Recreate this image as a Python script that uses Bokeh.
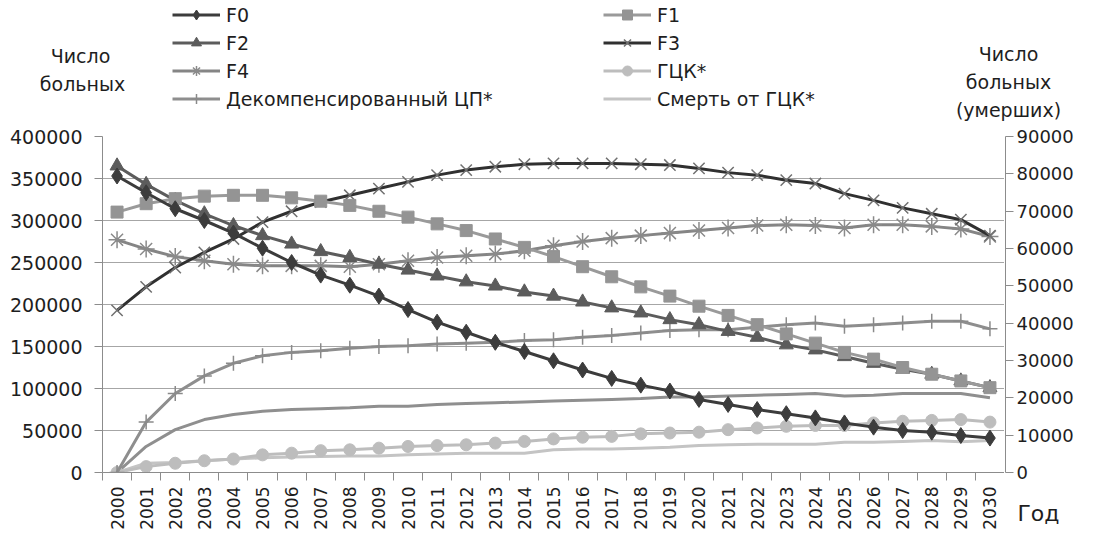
from bokeh.plotting import figure
from bokeh.layouts import column, row
from bokeh.models import (Range1d, LinearAxis, FixedTicker, BasicTickFormatter,
                          Legend, LegendItem)
from bokeh.core.properties import value
from bokeh.embed import file_html
from bokeh.resources import INLINE

# ---------------- data ----------------
years = list(range(2000, 2031))

f0 = [353000, 333000, 314000, 300000, 285000, 267000, 250000, 235000, 223000, 210000,
      194000, 179000, 167000, 155000, 144000, 133000, 122000, 112000, 104000, 97000,
      87000, 81000, 75000, 70000, 65000, 59000, 54000, 50000, 48000, 44000, 41000]
f1 = [310000, 320000, 326000, 329000, 330000, 330000, 327000, 323000, 318000, 311000,
      304000, 296000, 288000, 278000, 268000, 257000, 245000, 233000, 221000, 210000,
      198000, 187000, 176000, 165000, 154000, 143000, 135000, 125000, 117000, 109000, 101000]
f2 = [365000, 343000, 324000, 308000, 294000, 282000, 272000, 263000, 256000, 248000,
      241000, 234000, 227000, 222000, 215000, 210000, 203000, 196000, 190000, 182000,
      176000, 168000, 161000, 152000, 146000, 138000, 130000, 123000, 117000, 109000, 101000]
f3 = [193000, 221000, 244000, 262000, 278000, 298000, 311000, 322000, 330000, 338000,
      346000, 354000, 360000, 364000, 367000, 368000, 368000, 368000, 367000, 366000,
      362000, 357000, 354000, 348000, 344000, 332000, 324000, 315000, 308000, 301000, 282000]
f4 = [277000, 266000, 257000, 252000, 248000, 246000, 246000, 246000, 245000, 248000,
      252000, 256000, 258000, 260000, 264000, 270000, 275000, 279000, 282000, 285000,
      288000, 291000, 294000, 295000, 294000, 291000, 295000, 295000, 293000, 290000, 281000]
hcc = [0, 7000, 11000, 14000, 16000, 21000, 23000, 26000, 27000, 29000,
       31000, 32000, 33000, 35000, 37000, 40000, 42000, 43000, 46000, 47000,
       48000, 51000, 53000, 55000, 56000, 56000, 59000, 61000, 62000, 63000, 60000]
dcp = [0, 60000, 94000, 115000, 130000, 139000, 143000, 145000, 148000, 150000,
       151000, 153000, 154000, 155000, 157000, 158000, 161000, 163000, 166000, 169000,
       170000, 170000, 173000, 176000, 178000, 174000, 176000, 178000, 180000, 180000, 171000]
dcp_unmarked = [0, 31000, 51000, 63000, 69000, 73000, 75000, 76000, 77000, 79000,
                79000, 81000, 82000, 83000, 84000, 85000, 86000, 87000, 88000, 90000,
                90000, 91000, 92000, 93000, 94000, 91000, 92000, 94000, 94000, 94000, 89000]
hcc_death = [0, 11000, 12000, 14000, 16000, 17500, 18500, 19000, 19500, 19500,
             21000, 22000, 23000, 23000, 23000, 27000, 28000, 28000, 29000, 30000,
             32000, 33000, 33500, 33500, 33500, 36000, 36000, 37000, 38000, 36500, 38000]

left_ticks = list(range(0, 400001, 50000))
right_ticks = list(range(0, 90001, 10000))

legend_col1 = ["F0", "F2", "F4", "Декомпенсированный ЦП*"]
legend_col2 = ["F1", "F3", "ГЦК*", "Смерть от ГЦК*"]
left_title = ["Число", "больных"]
right_title = ["Число", "больных", "(умерших)"]
x_title = "Год"

FONT = "DejaVu Sans"
TXT = "#1e1e1e"
AX = "#8c8c8c"

# style of each series: line colour, marker, marker colour, marker size, filled
styles = {
    "F0": ("#3c3c3c", "diamond", "#3c3c3c", 16, True),
    "F1": ("#9a9a9a", "square", "#949494", 12, True),
    "F2": ("#5c5c5c", "triangle", "#5c5c5c", 14, True),
    "F3": ("#303030", "x", "#707070", 16, False),
    "F4": ("#858585", "asterisk", "#8a8a8a", 17, False),
    "ГЦК*": ("#bdbdbd", "circle", "#bdbdbd", 12, True),
    "Декомпенсированный ЦП*": ("#8e8e8e", "cross", "#8a8a8a", 15, False),
    "Смерть от ГЦК*": ("#c4c4c4", None, None, 0, True),
    "unmarked": ("#8f8f8f", None, None, 0, True),
}
values_by_name = {
    "F0": f0, "F1": f1, "F2": f2, "F3": f3, "F4": f4, "ГЦК*": hcc,
    "Декомпенсированный ЦП*": dcp, "Смерть от ГЦК*": hcc_death,
    "unmarked": dcp_unmarked,
}

def draw(fig, name, xs, ys):
    lc, mk, mc, ms, filled = styles[name]
    rs = [fig.line(xs, ys, line_color=lc, line_width=3)]
    if mk:
        kw = dict(marker=mk, size=ms, line_color=mc)
        if filled:
            kw["fill_color"] = mc
        else:
            kw["fill_color"] = None
            kw["line_width"] = 1.5
        rs.append(fig.scatter(xs, ys, **kw))
    return rs

W = 1077
TOP_H = 124
MAIN_H = 408
MAIN_W = 1004
RIGHT_W = W - MAIN_W
PAD_TOP = 12
FRAME_H = 336

# ---------------- top strip: legends and axis titles ----------------
top = figure(width=W, height=TOP_H, output_backend="svg", toolbar_location=None,
             x_range=Range1d(0, W), y_range=Range1d(TOP_H, 0),
             x_axis_location=None, y_axis_location=None,
             min_border=0, min_border_left=0, min_border_right=0,
             min_border_top=0, min_border_bottom=0)
top.outline_line_color = None
top.grid.visible = False

def make_legend(fig, names, x, y):
    # sample renderers for the legend keys, placed outside the visible strip
    items = [LegendItem(label=n, renderers=draw(fig, n, [-500, -400], [-500, -400]))
             for n in names]
    return Legend(items=items, location=(x, y), orientation="vertical",
                  glyph_width=48, glyph_height=25, label_height=25,
                  label_standoff=6, spacing=3, padding=0, margin=0,
                  border_line_alpha=0, background_fill_alpha=0,
                  label_text_font=FONT, label_text_font_size="19px",
                  label_text_color=TXT)

top.add_layout(make_legend(top, legend_col1, 172, 13))
top.add_layout(make_legend(top, legend_col2, 603, 13))

top.text(x=[80, 82], y=[55, 83], text=left_title, text_align="center",
         text_baseline="alphabetic", text_font=value(FONT),
         text_font_size="19px", text_color=TXT)
top.text(x=[1008, 1008, 1008], y=[53, 81, 109], text=right_title, text_align="center",
         text_baseline="alphabetic", text_font=value(FONT),
         text_font_size="19px", text_color=TXT)

# ---------------- main chart ----------------
p = figure(width=MAIN_W, height=MAIN_H, output_backend="svg", toolbar_location=None,
           x_range=Range1d(1999.5, 2030.5), y_range=Range1d(0, 400000),
           min_border_left=102, min_border_right=0, min_border_top=PAD_TOP,
           min_border_bottom=MAIN_H - PAD_TOP - FRAME_H)
p.outline_line_color = None

xa = p.xaxis[0]
xa.ticker = FixedTicker(ticks=years, minor_ticks=[y - 0.5 for y in years] + [2030.5])
xa.formatter = BasicTickFormatter(use_scientific=False)
xa.major_tick_out = 0
xa.major_tick_in = 0
xa.minor_tick_out = 8
xa.minor_tick_in = 0
xa.minor_tick_line_color = AX
xa.axis_line_color = AX
xa.major_label_orientation = 1.5708
xa.major_label_standoff = 6
xa.major_label_text_font = FONT
xa.major_label_text_font_size = "17px"
xa.major_label_text_color = TXT

ya = p.yaxis[0]
ya.ticker = FixedTicker(ticks=left_ticks)
ya.formatter = BasicTickFormatter(use_scientific=False)
ya.major_tick_out = 8
ya.major_tick_in = 0
ya.minor_tick_line_color = None
ya.axis_line_color = AX
ya.major_tick_line_color = AX
ya.major_label_standoff = 12
ya.major_label_text_font = FONT
ya.major_label_text_font_size = "19px"
ya.major_label_text_color = TXT

p.xgrid.visible = False
p.ygrid.ticker = FixedTicker(ticks=left_ticks)
p.ygrid.grid_line_color = "#a6a6a6"
p.ygrid.grid_line_width = 1.2

for name in ["unmarked", "Смерть от ГЦК*", "ГЦК*", "Декомпенсированный ЦП*",
             "F4", "F3", "F2", "F1", "F0"]:
    draw(p, name, years, values_by_name[name])

# ---------------- right axis strip ----------------
RA_H = PAD_TOP + FRAME_H + 10
rfig = figure(width=RIGHT_W, height=RA_H, output_backend="svg", toolbar_location=None,
              x_range=Range1d(0, 1), y_range=Range1d(0, 90000),
              x_axis_location=None, y_axis_location=None,
              min_border_left=0, min_border_right=RIGHT_W - 1,
              min_border_top=PAD_TOP, min_border_bottom=RA_H - PAD_TOP - FRAME_H)
rfig.outline_line_color = None
rfig.grid.visible = False
ra = LinearAxis(ticker=FixedTicker(ticks=right_ticks),
                formatter=BasicTickFormatter(use_scientific=False))
ra.major_tick_out = 8
ra.major_tick_in = 0
ra.minor_tick_line_color = None
ra.axis_line_color = AX
ra.major_tick_line_color = AX
ra.major_label_standoff = 3
ra.major_label_text_font = FONT
ra.major_label_text_font_size = "18px"
ra.major_label_text_color = TXT
rfig.add_layout(ra, "right")

# ---------------- x title strip ----------------
G_H = MAIN_H - RA_H
gfig = figure(width=RIGHT_W, height=G_H, output_backend="svg",
              toolbar_location=None, x_range=Range1d(0, RIGHT_W),
              y_range=Range1d(0, G_H),
              x_axis_location=None, y_axis_location=None,
              min_border=0, min_border_left=0, min_border_right=0,
              min_border_top=0, min_border_bottom=0)
gfig.outline_line_color = None
gfig.grid.visible = False
gfig.text(x=[34], y=[G_H - 31], text=[x_title], text_align="center",
          text_baseline="middle", text_font=value(FONT),
          text_font_size="22px", text_color=TXT)

right_col = column(rfig, row(gfig, spacing=0), spacing=0)
layout = column(top, row(p, right_col, spacing=0), spacing=0)

open("out.html", "w").write(file_html(layout, INLINE))
